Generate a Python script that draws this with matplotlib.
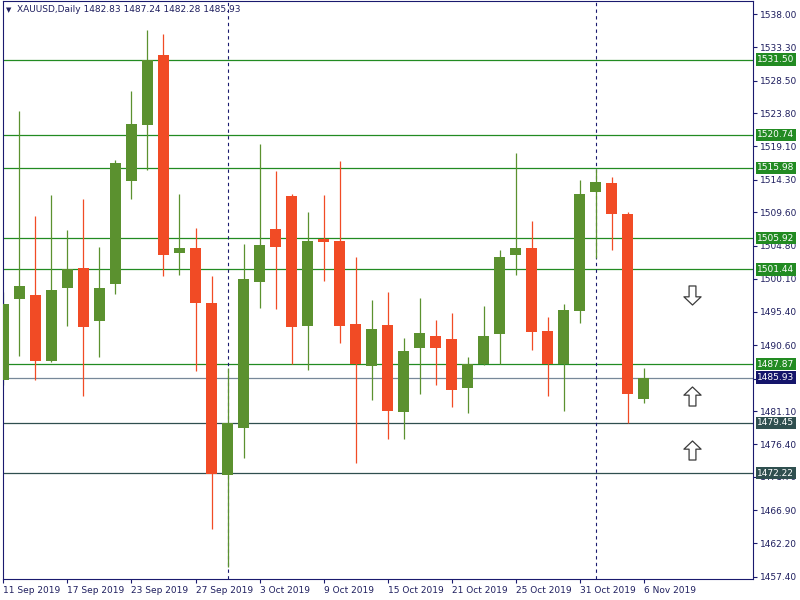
import matplotlib
matplotlib.use("Agg")
import matplotlib.pyplot as plt
from matplotlib.path import Path

# ---- data (XAUUSD daily) ----
opens = [1485.64, 1497.17, 1497.70, 1488.37, 1498.75, 1501.62, 1494.01, 1499.32, 1514.11, 1522.15,
         1532.16, 1503.77, 1504.45, 1496.69, 1472.04, 1478.65, 1499.61, 1507.17, 1511.91, 1493.29,
         1505.78, 1505.45, 1493.68, 1487.55, 1493.53, 1480.94, 1490.13, 1491.96, 1491.52, 1484.39,
         1487.83, 1492.14, 1503.44, 1504.45, 1492.67, 1487.89, 1495.54, 1512.49, 1513.78, 1509.33,
         1482.83]
highs = [1498.27, 1524.12, 1509.04, 1512.06, 1507.03, 1511.48, 1504.59, 1517.12, 1526.99, 1535.75,
         1535.17, 1512.20, 1507.32, 1500.43, 1487.36, 1505.02, 1519.38, 1515.50, 1512.20, 1509.61,
         1512.06, 1516.94, 1503.15, 1497.12, 1498.27, 1491.67, 1497.41, 1494.25, 1495.26, 1488.94,
         1496.26, 1504.16, 1518.09, 1508.32, 1494.68, 1496.55, 1514.21, 1515.79, 1514.64, 1509.61,
         1487.24]
lows = [1484.92, 1489.08, 1485.64, 1488.20, 1493.29, 1483.24, 1488.84, 1497.88, 1511.52, 1515.69,
        1500.47, 1500.61, 1486.83, 1464.24, 1458.83, 1474.34, 1495.88, 1495.73, 1487.94, 1486.97,
        1499.75, 1490.91, 1473.76, 1482.67, 1477.07, 1477.07, 1483.53, 1484.82, 1481.66, 1480.80,
        1487.69, 1487.89, 1500.61, 1489.95, 1483.34, 1481.09, 1493.72, 1503.01, 1504.16, 1479.36,
        1482.28]
closes = [1496.55, 1498.99, 1488.37, 1498.42, 1501.43, 1493.15, 1498.75, 1516.65, 1522.25, 1531.40,
          1503.48, 1504.45, 1496.59, 1472.18, 1479.42, 1500.00, 1504.88, 1504.63, 1493.15, 1505.45,
          1505.35, 1493.29, 1487.94, 1492.96, 1481.09, 1489.80, 1492.39, 1490.13, 1484.10, 1487.83,
          1491.96, 1503.15, 1504.45, 1492.53, 1487.83, 1495.69, 1512.20, 1513.92, 1509.33, 1483.63,
          1485.93]

date_labels = ["11 Sep 2019", "17 Sep 2019", "23 Sep 2019", "27 Sep 2019", "3 Oct 2019",
               "9 Oct 2019", "15 Oct 2019", "21 Oct 2019", "25 Oct 2019", "31 Oct 2019", "6 Nov 2019"]
price_ticks = [1538.00, 1533.30, 1528.50, 1523.80, 1519.10, 1514.30, 1509.60, 1504.80, 1500.10,
               1495.40, 1490.60, 1485.80, 1481.10, 1476.40, 1471.70, 1466.90, 1462.20, 1457.40]
hidden_ticks = [1485.80]  # covered by the bid label
separators = [14, 37]  # 1 Oct, 1 Nov

green_levels = [1531.50, 1520.74, 1515.98, 1505.92, 1501.44, 1487.87]
dark_levels = [1479.45, 1472.22]
bid_level = 1485.93

arrow_down = [(43, 1497.77)]
arrow_up = [(43, 1483.30), (43, 1475.59)]

BULL = "#5b912f"
BEAR = "#f14b25"
NAVY = "#1a1a6e"
TXT = "#1f1f5f"

fig = plt.figure(figsize=(8, 6), dpi=100, facecolor="white")
ax = fig.add_axes([3 / 800, 21 / 600, 750 / 800, 578 / 600])
ax.set_facecolor("white")

# level lines
for lv in green_levels:
    ax.axhline(lv, color="#228b22", lw=0.9, zorder=1)
for lv in dark_levels:
    ax.axhline(lv, color="#2f4f4f", lw=0.9, zorder=1)
ax.axhline(bid_level, color="#778899", lw=0.9, zorder=1)

# period separators
for s in separators:
    ax.axvline(s, color=NAVY, lw=0.8, ls=(0, (3, 3)), zorder=1)

# candles
for i in range(len(opens)):
    col = BULL if closes[i] >= opens[i] else BEAR
    ax.vlines(i, lows[i], highs[i], color=col, lw=0.9, zorder=2)
    ax.bar(i, closes[i] - opens[i], bottom=opens[i], width=0.69, color=col, lw=0, zorder=3)

# hollow arrows
up_path = Path([(-0.18, -0.5), (0.18, -0.5), (0.18, 0.07), (0.45, 0.07), (0, 0.5),
                (-0.45, 0.07), (-0.18, 0.07), (-0.18, -0.5)], closed=True)
down_path = Path([(x, -y) for x, y in up_path.vertices], closed=True)
for x, y in arrow_down:
    ax.plot(x, y, marker=down_path, ms=13.7, mfc="white", mec="#3b3b3b", mew=0.9, zorder=4)
for x, y in arrow_up:
    ax.plot(x, y, marker=up_path, ms=13.7, mfc="white", mec="#3b3b3b", mew=0.9, zorder=4)

ax.set_xlim(-0.03, 46.84)
ax.set_ylim(1457.07, 1539.9)

# axes styling
for sp in ax.spines.values():
    sp.set_color(NAVY)
    sp.set_linewidth(0.8)
ax.yaxis.tick_right()
ax.set_yticks(price_ticks)
ax.set_yticklabels(["" if p in hidden_ticks else f"{p:.2f}" for p in price_ticks])
ax.set_xticks(range(0, len(opens), 4))
ax.set_xticklabels(date_labels, ha="left")
ax.tick_params(axis="both", colors=NAVY, labelcolor=TXT, labelsize=6.5, length=3, width=0.8, pad=2)

# price labels on the right scale
def price_box(price, fc):
    ax.annotate(f"{price:.2f}", xy=(1.0, price), xycoords=("axes fraction", "data"),
                xytext=(3.2, 0), textcoords="offset points", ha="left", va="center",
                fontsize=6.5, color="white", zorder=6, annotation_clip=False,
                bbox=dict(boxstyle="square,pad=0.18", fc=fc, ec="none"))

for lv in green_levels:
    price_box(lv, "#228b22")
for lv in dark_levels:
    price_box(lv, "#2f4f4f")
price_box(bid_level, "#15156b")

# header
ax.text(0.004, 0.985, "\u25bc", transform=ax.transAxes, fontsize=5, color=TXT, va="center", ha="left")
ax.text(0.0187, 0.985, "XAUUSD,Daily 1482.83 1487.24 1482.28 1485.93", transform=ax.transAxes,
        fontsize=6.5, color=TXT, va="center", ha="left")

fig.savefig("out.png", dpi=100, facecolor="white")
